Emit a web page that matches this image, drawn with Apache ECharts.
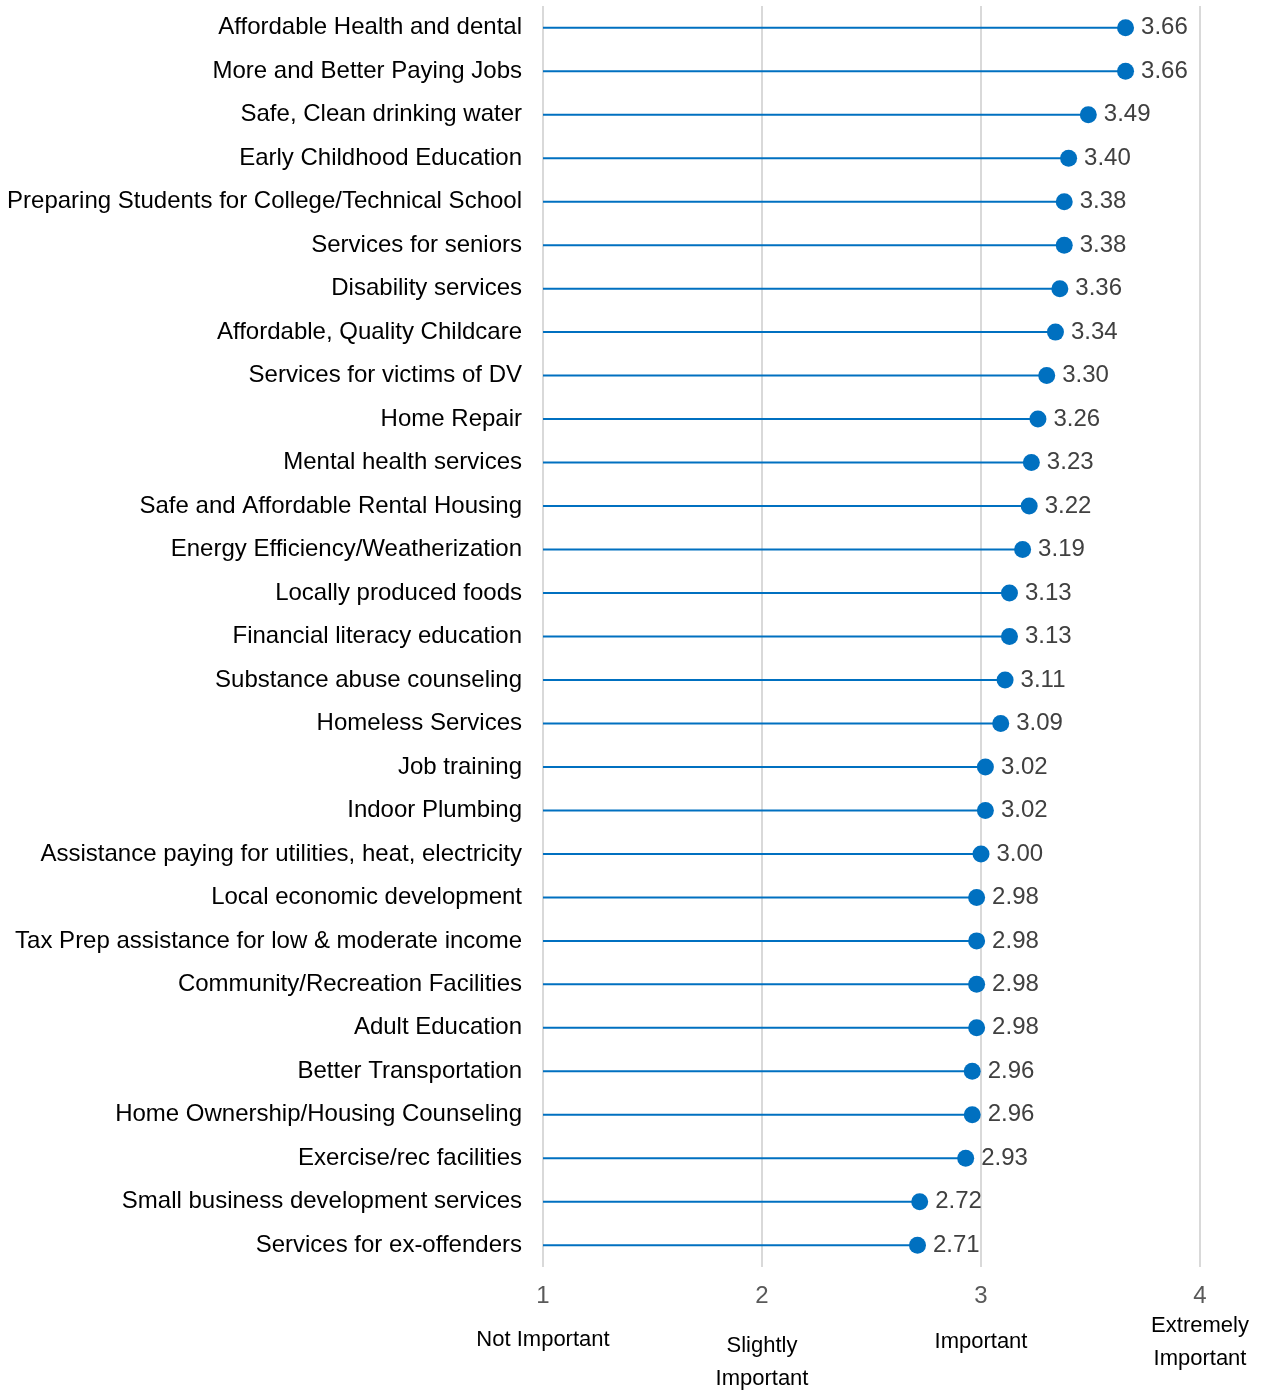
<!DOCTYPE html>
<html>
<head>
<meta charset="utf-8">
<script src="https://cdn.jsdelivr.net/npm/echarts@6/dist/echarts.min.js"></script>
<style>html,body{margin:0;padding:0;background:#fff;}#c{width:1265px;height:1391px;}</style>
</head>
<body>
<div id="c"></div>
<script>
const categories = [
  "Affordable Health and dental",
  "More and Better Paying Jobs",
  "Safe, Clean drinking water",
  "Early Childhood Education",
  "Preparing Students for College/Technical School",
  "Services for seniors",
  "Disability services",
  "Affordable, Quality Childcare",
  "Services for victims of DV",
  "Home Repair",
  "Mental health services",
  "Safe and Affordable Rental Housing",
  "Energy Efficiency/Weatherization",
  "Locally produced foods",
  "Financial literacy education",
  "Substance abuse counseling",
  "Homeless Services",
  "Job training",
  "Indoor Plumbing",
  "Assistance paying for utilities, heat, electricity",
  "Local economic development",
  "Tax Prep assistance for low & moderate income",
  "Community/Recreation Facilities",
  "Adult Education",
  "Better Transportation",
  "Home Ownership/Housing Counseling",
  "Exercise/rec facilities",
  "Small business development services",
  "Services for ex-offenders"
];
const values = [3.66, 3.66, 3.49, 3.40, 3.38, 3.38, 3.36, 3.34, 3.30, 3.26, 3.23, 3.22, 3.19, 3.13, 3.13, 3.11, 3.09, 3.02, 3.02, 3.00, 2.98, 2.98, 2.98, 2.98, 2.96, 2.96, 2.93, 2.72, 2.71];
const scaleTicks = [1, 2, 3, 4];
const scaleNames = ["Not Important", "Slightly\nImportant", "Important", "Extremely\nImportant"];
const axisMin = 1;

const BLUE = '#0070C0';
const chart = echarts.init(document.getElementById('c'), null, {renderer: 'canvas'});

const spacer = [15, 21, 17, 1];
const rich = { n: {fontSize: 24, lineHeight: 24, color: '#595959', fontFamily: 'Liberation Sans, Arial, sans-serif'},
               d: {fontSize: 22, lineHeight: 33, color: '#000', fontFamily: '"Liberation Sans Narrow", "Arial Narrow", "Liberation Sans", sans-serif'} };
spacer.forEach((h, i) => { rich['s' + i] = {fontSize: 1, lineHeight: h}; });

chart.setOption({
  animation: false,
  backgroundColor: '#fff',
  grid: {left: 543, right: 65, top: 6, bottom: 124, containLabel: false},
  xAxis: {
    type: 'value', min: 1, max: 4, interval: 1,
    axisLine: {show: false}, axisTick: {show: false},
    splitLine: {show: true, lineStyle: {color: '#d9d9d9', width: 2}},
    axisLabel: {
      margin: 17,
      verticalAlign: 'top',
      formatter: function (v) {
        const i = scaleTicks.indexOf(v);
        if (i < 0) return '';
        const lines = scaleNames[i].split('\n').map(s => '{d|' + s + '}').join('\n');
        return '{n|' + v + '}\n{s' + i + '| }\n' + lines;
      },
      rich: rich
    }
  },
  yAxis: {
    type: 'category', data: categories, inverse: true,
    axisLine: {show: false}, axisTick: {show: false}, splitLine: {show: false},
    axisLabel: {margin: 21, fontSize: 24, color: '#000', padding: [3, 0, 0, 0],
                fontFamily: 'Liberation Sans, Arial, sans-serif'}
  },
  series: [
    {
      type: 'custom',
      data: values.map((v, i) => [i, v]),
      encode: {x: 1, y: 0},
      renderItem: function (params, api) {
        const idx = api.value(0);
        const p0 = api.coord([axisMin, idx]);
        const p1 = api.coord([api.value(1), idx]);
        return {type: 'line', shape: {x1: p0[0], y1: p0[1], x2: p1[0], y2: p1[1]},
                style: {stroke: BLUE, lineWidth: 2}};
      },
      silent: true, z: 2
    },
    {
      type: 'scatter',
      data: values,
      symbol: 'circle', symbolSize: 17,
      itemStyle: {color: BLUE, opacity: 1},
      label: {show: true, position: 'right', distance: 7, fontSize: 24, color: '#404040',
              padding: [3, 0, 0, 0],
              fontFamily: 'Liberation Sans, Arial, sans-serif',
              formatter: p => p.value.toFixed(2)},
      z: 3
    }
  ]
});
</script>
</body>
</html>
